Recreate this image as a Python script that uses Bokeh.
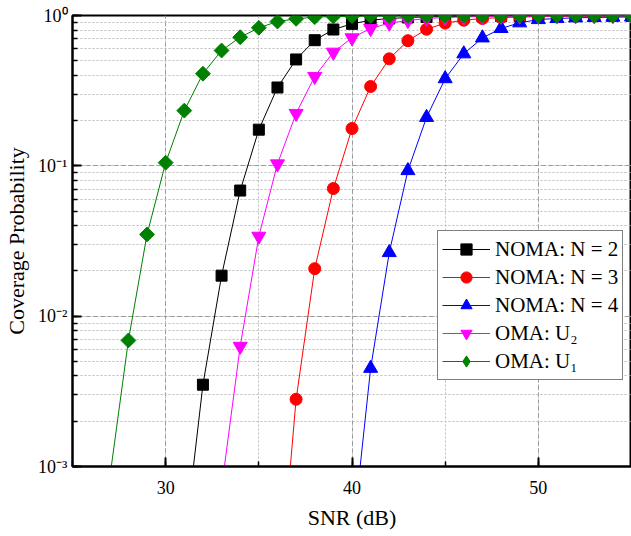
import math
from bokeh.plotting import figure
from bokeh.models import (Range1d, SingleIntervalTicker, LogTicker, CustomJSTickFormatter,
                          Legend, LegendItem, ColumnDataSource)
from bokeh.embed import file_html
from bokeh.resources import INLINE

# ---- data ----
snr_n2 = [31, 32, 33, 34, 35, 36, 37, 38, 39, 40, 41, 42, 43, 44, 45, 46, 47, 48, 49, 50, 51, 52, 53, 54, 55]
cp_n2 = [3.0e-4, 0.0035, 0.0186, 0.0685, 0.174, 0.332, 0.51, 0.685, 0.807, 0.88, 0.93, 0.955, 0.97,
         0.978, 0.984, 0.988, 0.99, 0.992, 0.993, 0.994, 0.995, 0.996, 0.996, 0.997, 0.997]

snr_n3 = [36, 37, 38, 39, 40, 41, 42, 43, 44, 45, 46, 47, 48, 49, 50, 51, 52, 53, 54, 55]
cp_n3 = [1.0e-4, 0.0028, 0.0207, 0.0706, 0.177, 0.337, 0.515, 0.68, 0.81, 0.89, 0.93, 0.955,
         0.968, 0.976, 0.982, 0.986, 0.989, 0.991, 0.993, 0.994]

snr_n4 = [40, 41, 42, 43, 44, 45, 46, 47, 48, 49, 50, 51, 52, 53, 54, 55]
cp_n4 = [3.1e-4, 0.0045, 0.0265, 0.093, 0.21, 0.38, 0.556, 0.71, 0.82, 0.894, 0.94, 0.955,
         0.965, 0.97, 0.975, 0.978]

snr_u2 = [33, 34, 35, 36, 37, 38, 39, 40, 41, 42, 43, 44, 45, 46, 47, 48, 49, 50, 51, 52, 53, 54, 55]
cp_u2 = [7.2e-4, 0.0063, 0.034, 0.103, 0.223, 0.393, 0.57, 0.71, 0.82, 0.89, 0.926, 0.955, 0.97,
         0.978, 0.984, 0.988, 0.99, 0.992, 0.993, 0.994, 0.995, 0.996, 0.996]

snr_u1 = [27, 28, 29, 30, 31, 32, 33, 34, 35, 36, 37, 38, 39, 40, 41, 42, 43, 44, 45, 46, 47, 48,
          49, 50, 51, 52, 53, 54, 55]
cp_u1 = [8.4e-4, 0.0069, 0.035, 0.105, 0.233, 0.41, 0.585, 0.717, 0.828, 0.912, 0.95, 0.975, 0.985,
         0.99, 0.993, 0.995, 0.996, 0.997, 0.997, 0.998, 0.998, 0.998, 0.998, 0.998, 0.998, 0.998,
         0.998, 0.998, 0.998]

series_labels = ["NOMA: N = 2", "NOMA: N = 3", "NOMA: N = 4", "OMA: U₂", "OMA: U₁"]
y_tick_values = [0.001, 0.01, 0.1, 1.0]
y_tick_labels = ["10⁻³", "10⁻²", "10⁻¹", "10⁰"]

FONT = "Liberation Serif"

p = figure(width=631, height=536, y_axis_type="log",
           x_range=Range1d(25, 55), y_range=Range1d(1e-3, 1.0),
           output_backend="svg", toolbar_location=None,
           min_border_left=72, min_border_right=0, min_border_top=15, min_border_bottom=70)

p.background_fill_color = "white"
p.border_fill_color = "white"
p.outline_line_color = "black"
p.outline_line_width = 2

# axes
p.xaxis.ticker = SingleIntervalTicker(interval=10, num_minor_ticks=2)
p.yaxis.ticker = LogTicker(num_minor_ticks=10)
p.yaxis.formatter = CustomJSTickFormatter(
    args=dict(vals=y_tick_values, labs=y_tick_labels),
    code="""
    let best = 0, bd = 1e9;
    for (let i = 0; i < vals.length; i++) {
        const d = Math.abs(Math.log10(tick) - Math.log10(vals[i]));
        if (d < bd) { bd = d; best = i; }
    }
    return labs[best];
    """)

for ax in (p.xaxis[0], p.yaxis[0]):
    ax.axis_line_width = 2
    ax.axis_line_color = "black"
    ax.major_tick_in = 9
    ax.major_tick_out = 0
    ax.minor_tick_in = 5
    ax.minor_tick_out = 0
    ax.major_tick_line_width = 2
    ax.minor_tick_line_width = 1.5
    ax.major_tick_line_color = "black"
    ax.minor_tick_line_color = "black"
    ax.major_label_text_font = FONT
    ax.major_label_text_font_size = "18px"
    ax.major_label_text_color = "black"
    ax.axis_label_text_font = FONT
    ax.axis_label_text_font_size = "22px"
    ax.axis_label_text_font_style = "normal"
    ax.axis_label_text_color = "black"

p.xaxis.axis_label = "SNR (dB)"
p.yaxis.axis_label = "Coverage Probability"
p.xaxis.major_label_standoff = 14
p.xaxis.axis_label_standoff = 8
p.yaxis.major_label_standoff = 5
p.yaxis.axis_label_standoff = 6

# grids
for g in (p.xgrid[0], p.ygrid[0]):
    g.grid_line_color = "#999999"
    g.grid_line_dash = "4 3"
    g.grid_line_width = 1
    g.minor_grid_line_color = "#bbbbbb"
    g.minor_grid_line_dash = "2 2"
    g.minor_grid_line_width = 1

specs = [
    (snr_n2, cp_n2, "black", "square", 11, 0.0),
    (snr_n3, cp_n3, "#ff0000", "circle", 12, 0.0),
    (snr_n4, cp_n4, "#0000ff", "triangle", 14, 0.0),
    (snr_u2, cp_u2, "#ff00ff", "inverted_triangle", 14, 0.0),
    (snr_u1, cp_u1, "#008000", "square", 10.5, math.pi / 4),
]

items = []
for (xs, ys, col, mk, sz, ang), lab in zip(specs, series_labels):
    src = ColumnDataSource(dict(x=xs, y=ys))
    lr = p.line("x", "y", source=src, line_color=col, line_width=1)
    sr = p.scatter("x", "y", source=src, marker=mk, size=sz, angle=ang,
                   fill_color=col, line_color=col)
    if ang != 0.0:
        # legend swatch: legend glyphs are not rotated, so use a diamond marker
        # placed on the series' first point (which lies below the visible range)
        sr = p.scatter(x=xs[:1], y=ys[:1], marker="diamond", size=23,
                       fill_color=col, line_color=col)
    items.append(LegendItem(label=lab, renderers=[lr, sr]))

legend = Legend(items=items, location=(365, 86))
legend.label_text_font = FONT
legend.label_text_font_size = "21px"
legend.label_text_color = "black"
legend.glyph_width = 48
legend.glyph_height = 28
legend.label_height = 28
legend.spacing = 0
legend.padding = 4
legend.margin = 0
legend.label_standoff = 5
legend.border_line_color = "black"
legend.border_line_width = 1
legend.background_fill_color = "white"
legend.background_fill_alpha = 1.0
p.add_layout(legend)

open("out.html", "w").write(file_html(p, INLINE))
